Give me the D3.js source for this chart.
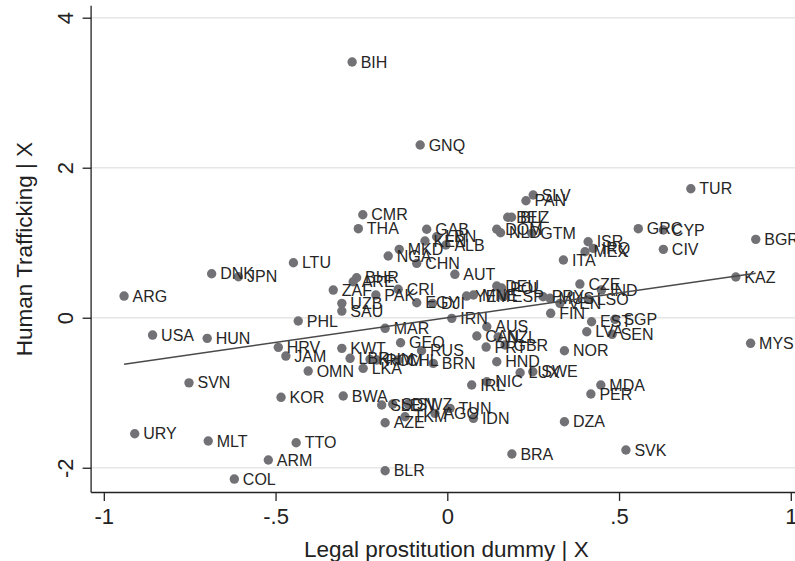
<!DOCTYPE html>
<html>
<head>
<meta charset="utf-8">
<script src="https://cdn.jsdelivr.net/npm/d3@7"></script>
<style>
  html, body { margin: 0; padding: 0; background: #ffffff; }
  svg { display: block; }
  text { font-family: "Liberation Sans", Arial, Helvetica, sans-serif; }
</style>
</head>
<body>
<svg id="chart" width="795" height="561"></svg>
<script>
// ---- data ----
const countries = ["ARG","USA","HUN","SVN","URY","MLT","COL","ARM","TTO","KOR",
  "DNK","JPN","LTU","PHL","HRV","JAM","OMN","ZAF","UZB","SAU",
  "BHR","ARE","PAK","CMR","THA","BIH","GNQ","MKD","NGA","CHN",
  "GAB","LBN","KEN","ALB","CRI","EGY","DJI","AUT","IRN","MAR",
  "KWT","LBR","LKA","KHM","ROM","CHL","GEO","RUS","BRN","BWA",
  "SLE","SDN","SWZ","AZE","TKM","AGO","TUN","IDN","BLR","IRL",
  "NIC","HND","LUX","SWE","AUS","CAN","NZL","PRT","GBR","YEM",
  "MNE","ESP","DEU","POL","BEL","BLZ","DOM","NLD","GTM","SLV",
  "PAN","ITA","ISR","MEX","IRQ","GRC","CYP","CIV","TUR","BGR",
  "KAZ","CZE","IND","PRY","MUS","VEN","LSO","FIN","EST","SGP",
  "LVA","SEN","MYS","NOR","DZA","MDA","PER","SVK","BRA"];
const legalProstitution = [-0.941,-0.858,-0.699,-0.752,-0.910,-0.696,-0.620,-0.521,-0.440,-0.484,
  -0.686,-0.608,-0.448,-0.434,-0.492,-0.470,-0.405,-0.332,-0.307,-0.307,
  -0.264,-0.274,-0.208,-0.246,-0.259,-0.277,-0.079,-0.140,-0.172,-0.089,
  -0.060,-0.031,-0.065,-0.004,-0.143,-0.089,-0.043,0.022,0.013,-0.181,
  -0.307,-0.283,-0.245,-0.225,-0.205,-0.143,-0.136,-0.075,-0.041,-0.303,
  -0.191,-0.159,-0.114,-0.181,-0.123,-0.036,0.008,0.076,-0.181,0.071,
  0.115,0.144,0.212,0.249,0.115,0.086,0.148,0.113,0.168,0.056,
  0.076,0.163,0.144,0.158,0.176,0.187,0.144,0.155,0.246,0.250,
  0.229,0.338,0.410,0.401,0.425,0.556,0.629,0.629,0.709,0.898,
  0.840,0.386,0.449,0.279,0.299,0.328,0.410,0.301,0.420,0.488,
  0.406,0.480,0.883,0.341,0.341,0.447,0.418,0.520,0.188];
const humanTrafficking = [0.289,-0.231,-0.275,-0.868,-1.547,-1.644,-2.151,-1.897,-1.667,-1.061,
  0.587,0.547,0.733,-0.044,-0.395,-0.511,-0.711,0.369,0.192,0.089,
  0.533,0.480,0.303,1.373,1.187,3.409,2.303,0.912,0.823,0.725,
  1.179,1.080,1.023,0.969,0.379,0.200,0.192,0.579,-0.008,-0.141,
  -0.408,-0.541,-0.675,-0.555,-0.564,-0.564,-0.333,-0.440,-0.608,-1.044,
  -1.164,-1.151,-1.151,-1.400,-1.320,-1.275,-1.208,-1.341,-2.040,-0.897,
  -0.853,-0.587,-0.733,-0.720,-0.120,-0.244,-0.257,-0.391,-0.364,0.289,
  0.303,0.280,0.423,0.396,1.339,1.339,1.179,1.133,1.125,1.636,
  1.560,0.769,1.013,0.880,0.925,1.187,1.169,0.912,1.720,1.045,
  0.543,0.449,0.369,0.280,0.259,0.192,0.249,0.059,-0.053,-0.021,
  -0.187,-0.221,-0.341,-0.440,-1.387,-0.897,-1.017,-1.764,-1.817];
const xTicks = [-1, -0.5, 0, 0.5, 1];
const xTickLabels = ["-1", "-.5", "0", ".5", "1"];
const yTicks = [-2, 0, 2, 4];
const yTickLabels = ["-2", "0", "2", "4"];
const fitSlope = 0.66;
const fitIntercept = 0.0;
const xTitle = "Legal prostitution dummy | X";
const yTitle = "Human Trafficking | X";

// ---- drawing ----
const svg = d3.select("#chart");
const x = d3.scaleLinear().domain([-1.037, 1.037]).range([91.1, 803.5]);
const y = d3.scaleLinear().domain([-2.33, 4.16]).range([492.5, 5.7]);

// gridlines
svg.append("g").selectAll("line").data(yTicks).join("line")
  .attr("x1", x(-1.037)).attr("x2", x(1.037))
  .attr("y1", d => y(d)).attr("y2", d => y(d))
  .attr("stroke", "#e6e6e6").attr("stroke-width", 1.6);

// y axis
const yAxis = d3.axisLeft(y).tickValues(yTicks).tickSize(8.5)
  .tickFormat((d, i) => yTickLabels[i]);
const gy = svg.append("g").attr("transform", `translate(${x(-1.037)},0)`).call(yAxis);
gy.select(".domain").attr("d", `M0,${y(4.16)}V${y(-2.33)}`).attr("stroke", "#222").attr("stroke-width", 1.3);
gy.selectAll(".tick line").attr("stroke", "#222").attr("stroke-width", 1.3);
gy.selectAll(".tick text")
  .attr("x", 0).attr("y", 0).attr("dy", 0)
  .attr("transform", "translate(-18,0) rotate(-90)")
  .attr("text-anchor", "middle")
  .attr("font-size", 22).attr("fill", "#222")
  .style("font-family", '"Liberation Sans", Arial, sans-serif');

// x axis
const xAxis = d3.axisBottom(x).tickValues(xTicks).tickSize(8.4)
  .tickFormat((d, i) => xTickLabels[i]);
const gx = svg.append("g").attr("transform", `translate(0,${y(-2.33)})`).call(xAxis);
gx.select(".domain").attr("d", `M${x(-1.037)},0H${x(1.037)}`).attr("stroke", "#222").attr("stroke-width", 1.3);
gx.selectAll(".tick line").attr("stroke", "#222").attr("stroke-width", 1.3);
gx.selectAll(".tick text").attr("y", 0).attr("dy", 0)
  .attr("transform", "translate(0,31.5)")
  .attr("font-size", 22).attr("fill", "#222")
  .style("font-family", '"Liberation Sans", Arial, sans-serif');

// axis titles
svg.append("text").attr("x", (x(-1.037) + x(1.037)) / 2 - 1).attr("y", 557)
  .attr("text-anchor", "middle").attr("font-size", 22.5).attr("fill", "#222")
  .text(xTitle);
svg.append("text").attr("transform", `translate(32,${(y(4.16) + y(-2.33)) / 2}) rotate(-90)`)
  .attr("text-anchor", "middle").attr("font-size", 22.5).attr("fill", "#222")
  .text(yTitle);

// points
const pts = countries.map((c, i) => ({ c, xv: legalProstitution[i], yv: humanTrafficking[i] }));
svg.append("g").selectAll("circle").data(pts).join("circle")
  .attr("cx", d => x(d.xv)).attr("cy", d => y(d.yv)).attr("r", 4.7)
  .attr("fill", "#727276");
svg.append("g").selectAll("text").data(pts).join("text")
  .attr("x", d => x(d.xv) + 8.5).attr("y", d => y(d.yv)).attr("dy", "0.35em")
  .attr("font-size", 16).attr("fill", "#262626")
  .text(d => d.c);

// fit line
const xMin = d3.min(legalProstitution), xMax = d3.max(legalProstitution);
svg.append("line")
  .attr("x1", x(xMin)).attr("y1", y(fitIntercept + fitSlope * xMin))
  .attr("x2", x(xMax)).attr("y2", y(fitIntercept + fitSlope * xMax))
  .attr("stroke", "#4a4a4a").attr("stroke-width", 1.5);
</script>
</body>
</html>
